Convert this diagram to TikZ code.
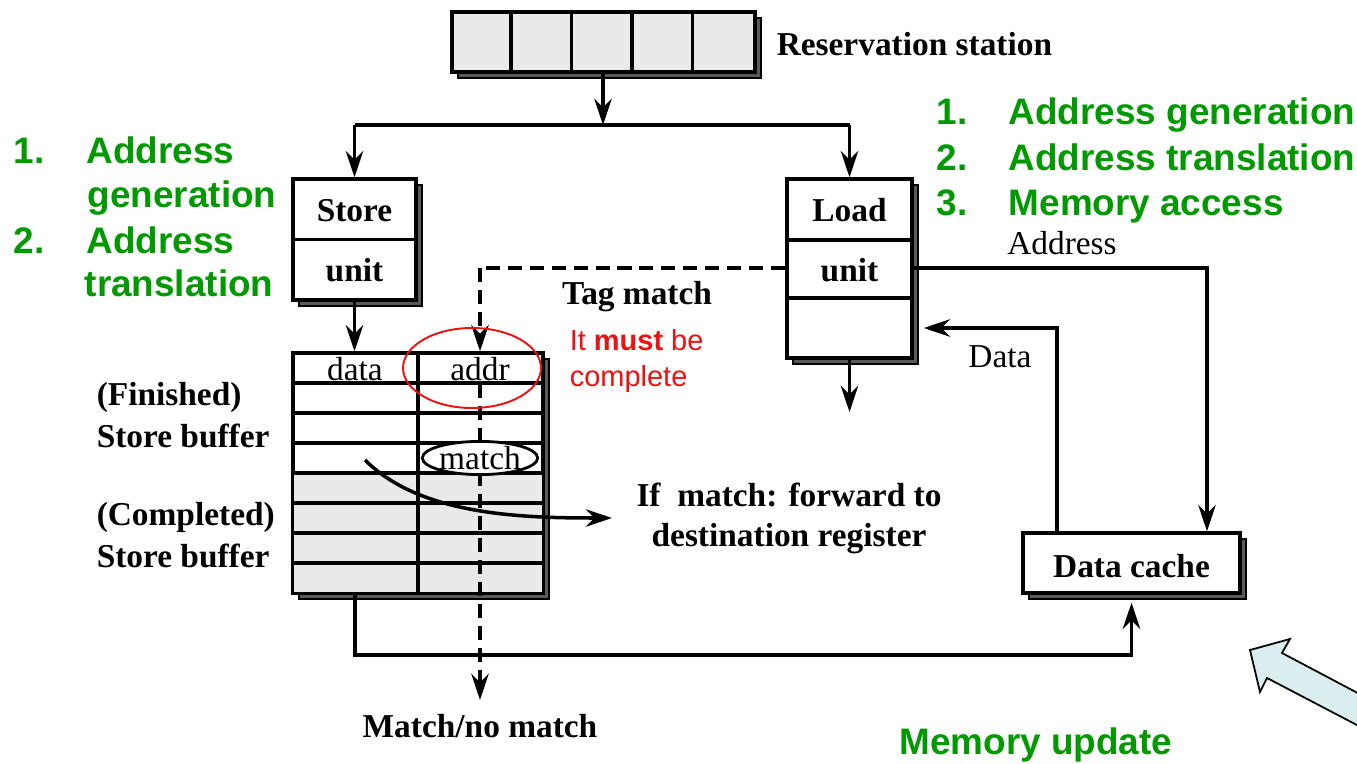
\documentclass[tikz,border=0pt]{standalone}
\usepackage{fontspec}
\setmainfont{Liberation Serif}
\newfontfamily\arial{Liberation Sans}
\usetikzlibrary{arrows.meta,positioning,shadows,shapes.geometric}
\definecolor{cellgray}{HTML}{E9E9E9}
\definecolor{shadegray}{HTML}{5A5A5A}
\definecolor{slidegreen}{HTML}{009A00}
\definecolor{notered}{HTML}{EE1111}
\definecolor{hintblue}{HTML}{DAEDEF}

\tikzset{
  unit/.style={draw, inner sep=0pt, fill=white,
    copy shadow={shadow xshift=3.4pt, shadow yshift=-3.4pt, fill=shadegray, draw=black, line width=1pt}},
  lbl/.style={font=\fontsize{19}{21}\selectfont\bfseries, inner sep=0pt},
  txt/.style={font=\fontsize{19}{21}\selectfont, inner sep=0pt},
  note/.style={font=\arial\fontsize{21}{25}\selectfont\bfseries, text=slidegreen,
    inner sep=0pt, anchor=base west},
  tagline/.style={dash pattern=on 8pt off 4.5pt},
}

\begin{document}
\begin{tikzpicture}[x=0.02cm, y=-0.02cm, line width=2pt,
    >={Stealth[length=15pt, width=10pt, inset=5pt]}]
  \useasboundingbox (0,0) rectangle (1357,764);

  % reservation station
  \node[unit, fill=cellgray, minimum width=6.06cm, minimum height=1.2cm] (rs) at (603.5,42) {};
  \foreach \i in {1,...,4}
    \draw ([xshift=\i*1.212cm]rs.north west) -- ([xshift=\i*1.212cm]rs.south west);
  \node[lbl, anchor=west] (rslbl) at (775,44) {Reservation station};

  % store and load units
  \node[unit, minimum width=2.46cm, minimum height=2.42cm] (su) at (354.5,239.5) {};
  \draw (su.west) -- (su.east);
  \node[lbl] (sutop) at (354.5,211) {Store};
  \node[lbl] (subot) at (354.5,270) {unit};

  \node[unit, minimum width=2.5cm, minimum height=3.58cm] (lu) at (849.5,268.5) {};
  \draw (787,240) -- (912,240);
  \draw (787,298) -- (912,298);
  \node[lbl] (lutop) at (849.5,210) {Load};
  \node[lbl] (lubot) at (849.5,270) {unit};

  % store buffer
  \node[unit, minimum width=5cm, minimum height=4.8cm] (buf) at (418,473) {};
  \fill[cellgray] (294,473) rectangle (542,592);
  \foreach \y in {383,413,...,563}
    \draw (293,\y) -- (543,\y);
  \draw (418,353) -- (418,593);
  \node[txt] (data) at (355,369) {data};
  \node[txt] (addr) at (480,369) {addr};

  % data cache
  \node[unit, minimum width=4.34cm, minimum height=1.2cm] (dc) at (1131.5,563) {};
  \node[lbl] (dclbl) at (1131.5,566) {Data cache};

  % connectors
  \coordinate (split) at (603,125);
  \coordinate (tagc) at (480,268);
  \coordinate (addrx) at (1207,268);
  \coordinate (datax) at (1057,328);
  \coordinate (wb) at (355,655);
  \coordinate (ldout) at (849.5,412);
  \coordinate (mnm) at (480,700);
  \coordinate (fwdstart) at (365,460);
  \coordinate (fwdend) at (612,518);

  \draw[->] (rs.south -| split) -- (split);
  \draw (split -| su.north) -- (split -| lu.north);
  \draw[->] (split -| su.north) -- (su.north);
  \draw[->] (split -| lu.north) -- (lu.north);
  \draw[->] (su.south) -- (su.south |- buf.north);
  \draw[->] (lu.south) -- (ldout);
  \draw[->] (lu.east |- addrx) -- (addrx) -- (addrx |- dc.north);
  \draw[->] (datax |- dc.north) -- (datax) -- ([xshift=0.2cm]lu.east |- datax);
  \draw[->] (wb |- buf.south) -- (wb) -| ([yshift=-0.16cm]dc.south);

  \draw[tagline] (lu.west |- tagc) -- (tagc);
  \draw[tagline, ->] (tagc) -- (buf.north -| tagc);
  \draw[tagline, ->] (480,384) -- (mnm);

  \node[draw, ellipse, fill=white, line width=1.6pt, inner sep=0pt, minimum width=2.2cm,
    minimum height=0.55cm, font=\fontsize{19}{21}\selectfont] (match) at (480,458) {match};
  \draw[->] (fwdstart) .. controls (420,515) and (520,518) .. (fwdend);

  % labels
  \node[txt] (addrlbl) at (1062,243) {Address};
  \node[txt] (datalbl) at (1000,357) {Data};
  \node[lbl] (taglbl) at (637,297) {Tag match};
  \node[lbl] (mnmlbl) at (480,726) {Match/no match};
  \node[lbl, align=center, font=\fontsize{19}{22.7}\selectfont\bfseries] (fwdlbl) at (789,518)
    {If\ \ match: forward to\\destination register};
  \node[lbl, anchor=west] (finlbl) at (95,397) {(Finished)};
  \node[lbl, anchor=west] (sb1lbl) at (95,436) {Store buffer};
  \node[lbl, anchor=west] (cmplbl) at (95,517) {(Completed)};
  \node[lbl, anchor=west] (sb2lbl) at (95,556) {Store buffer};

  % annotations
  \draw[notered, line width=1.1pt] (472,368) ellipse [x radius=69, y radius=40];
  \node[anchor=west, align=left, inner sep=0pt, text=notered,
    font=\arial\fontsize{16.5}{20}\selectfont] (must) at (568,361)
    {It \textbf{must} be\\complete};

  \node[note] (ln1) at (12,163) {1.};
  \node[note] (lt1a) at (85,163) {Address};
  \node[note] (lt1b) at (86,207) {generation};
  \node[note] (ln2) at (12,253) {2.};
  \node[note] (lt2a) at (85,253) {Address};
  \node[note] (lt2b) at (83,296) {translation};
  \node[note] (rn1) at (935,124) {1.};
  \node[note] (rt1) at (1007,124) {Address generation};
  \node[note] (rn2) at (935,170) {2.};
  \node[note] (rt2) at (1007,170) {Address translation};
  \node[note] (rn3) at (935,215) {3.};
  \node[note] (rt3) at (1007,215) {Memory access};
  \node[note, anchor=center] (memup) at (1036,745) {Memory update};

  \begin{scope}
    \clip (0,0) rectangle (1357,764);
    \draw[fill=hintblue, line width=1pt] (1250,650) -- (1290,639) -- (1282,653) -- (1420,726)
      -- (1420,758) -- (1267,678) -- (1260,692) -- cycle;
  \end{scope}
\end{tikzpicture}
\end{document}
